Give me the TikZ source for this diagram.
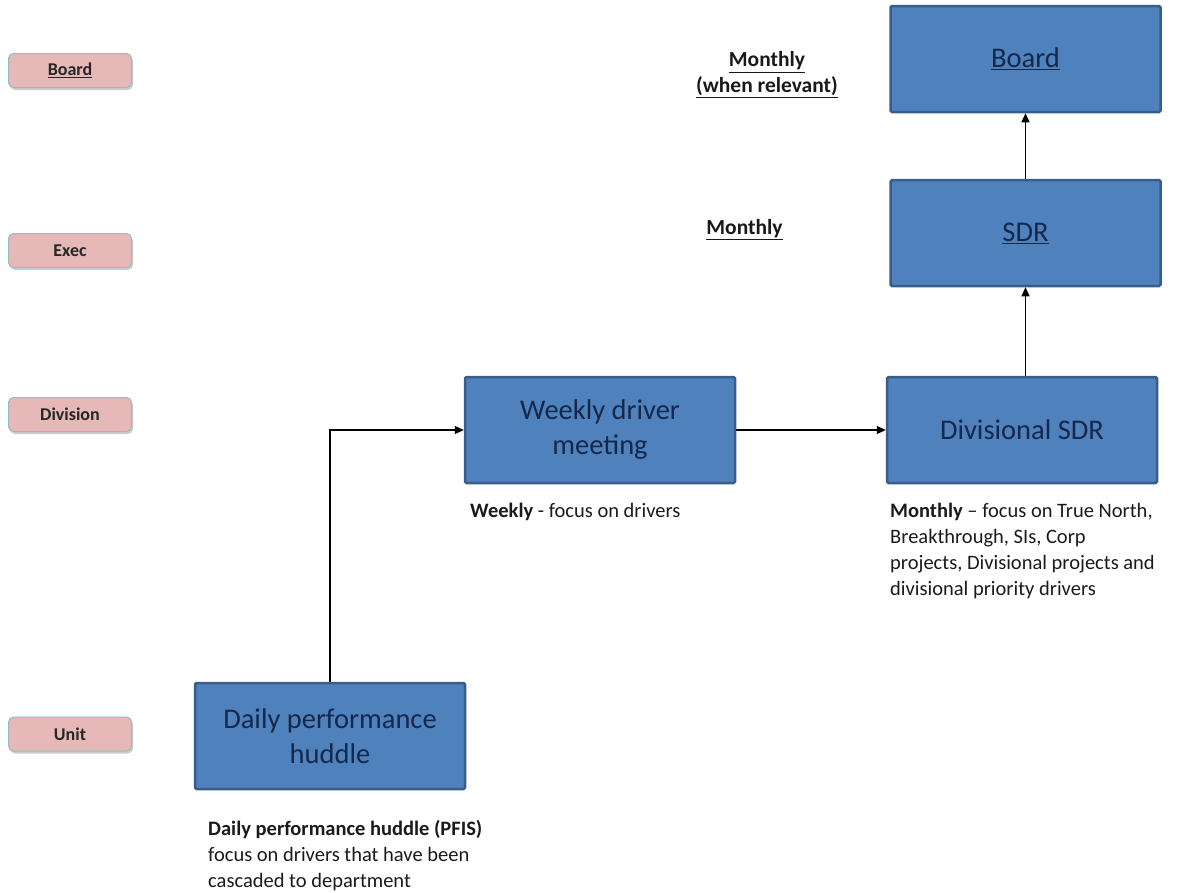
\documentclass[tikz,border=0pt]{standalone}
\usepackage{fontspec}
\setmainfont{Carlito}
\usetikzlibrary{arrows.meta,shadows}
\definecolor{boxfill}{HTML}{4F81BD}
\definecolor{boxline}{HTML}{385D8A}
\definecolor{boxtext}{HTML}{14284B}
\definecolor{pinkfill}{HTML}{E6B9B8}
\definecolor{pinkline}{HTML}{8FBFC0}
\definecolor{captext}{HTML}{1A1A1A}
\tikzset{
  bluebox/.style={draw=boxline, line width=2.5pt, fill=boxfill, rounded corners=1.5pt,
    minimum width=270pt, minimum height=106pt, text=boxtext, align=center,
    font=\fontsize{28.5}{35}\selectfont},
  levelbox/.style={draw=pinkline, line width=1pt, fill=pinkfill, rounded corners=5pt,
    minimum width=123pt, minimum height=34pt, font=\fontsize{18}{21}\selectfont\bfseries,
    text=black!85, drop shadow={shadow xshift=1.5pt, shadow yshift=-2.5pt, opacity=0.4}},
  caption/.style={align=left, text=captext, font=\fontsize{20.5}{26}\selectfont, inner sep=0pt},
  freqlabel/.style={align=center, text=black!90, font=\fontsize{21.5}{26}\selectfont\bfseries, inner sep=0pt},
  conn/.style={line width=1.2pt, -{Triangle[length=9pt,width=8pt]}}
}
\begin{document}
\begin{tikzpicture}[x=1pt,y=-1pt]
\useasboundingbox (0,0) rectangle (1190,892);
% level labels
\node[levelbox] (lboard) at (70,70.5) {\underline{Board}};
\node[levelbox] (lexec) at (70,250.5) {Exec};
\node[levelbox] (ldiv) at (70,414.5) {Division};
\node[levelbox] (lunit) at (70,734) {Unit};
% boxes
\node[bluebox] (board) at (1025.5,59) {\underline{Board}};
\node[bluebox] (sdr) at (1025.5,233) {\underline{SDR}};
\node[bluebox] (div) at (1022,430) {Divisional SDR};
\node[bluebox] (weekly) at (600,430) {Weekly driver\\meeting};
\node[bluebox] (daily) at (330,736) {Daily performance\\huddle};
% frequency labels
\node[freqlabel] (fboard) at (767,75) {\underline{Monthly}\\\underline{(when relevant)}};
\node[freqlabel, anchor=base] (fsdr) at (744.5,234) {\underline{Monthly}};
% captions
\node[caption, anchor=base west] (cweekly) at (470,517) {\textbf{Weekly} - focus on drivers};
\node[caption, anchor=north west] (cdiv) at (890,502.5) {\textbf{Monthly} -- focus on True North,\\Breakthrough, SIs, Corp\\projects, Divisional projects and\\divisional priority drivers};
\node[caption, anchor=north west] (cdaily) at (208,820.5) {\textbf{Daily performance huddle (PFIS)}\\focus on drivers that have been\\cascaded to department};
% connectors
\draw[conn] (daily.north) |- (weekly.west);
\draw[conn] (weekly.east) -- (div.west);
\draw[conn] (sdr.south |- div.north) -- (sdr.south);
\draw[conn] (sdr.north) -- (board.south);
\end{tikzpicture}
\end{document}
